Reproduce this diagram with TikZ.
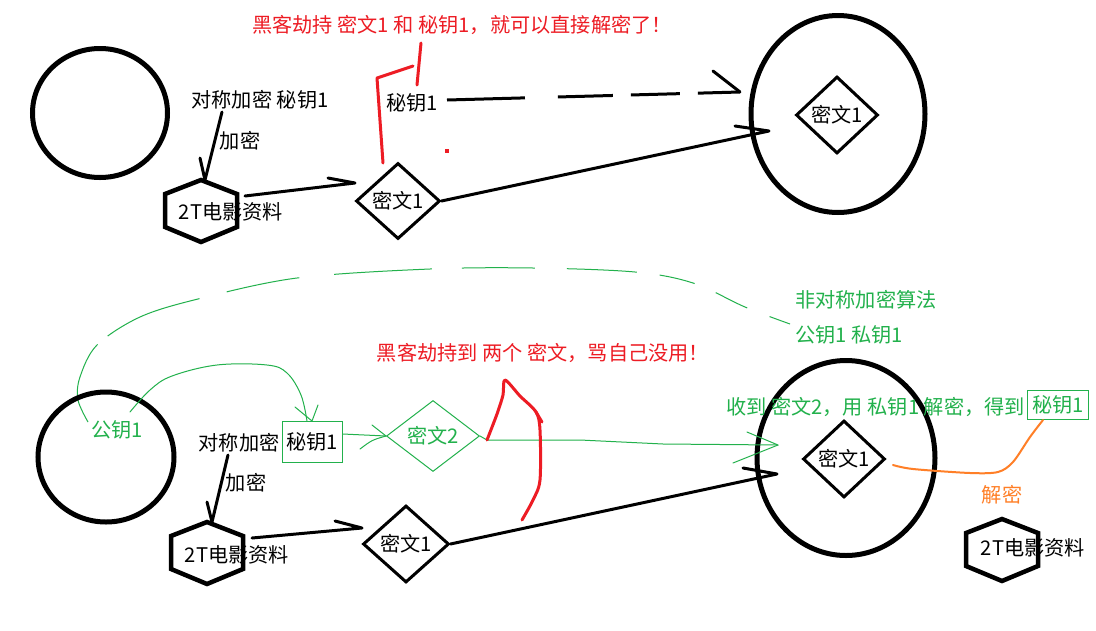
\documentclass[tikz,border=0pt]{standalone}
\usepackage{fontspec}
\newfontfamily\cjk{Noto Sans CJK SC}
\usetikzlibrary{shapes.geometric,calc}
\definecolor{pred}{RGB}{237,28,36}
\definecolor{pgreen}{RGB}{34,177,76}
\definecolor{porange}{RGB}{255,127,39}
\tikzset{
  txt/.style={inner sep=0pt, font=\cjk\fontsize{20.2}{24}\selectfont},
  bigcirc/.style={draw, ellipse, line width=5pt, inner sep=0pt},
  dmd/.style={draw, diamond, line width=3pt, inner sep=0pt, font=\cjk\fontsize{20.2}{24}\selectfont},
  gdmd/.style={draw=pgreen, diamond, line width=1pt, inner sep=0pt, text=pgreen, font=\cjk\fontsize{20.2}{24}\selectfont},
  gbox/.style={draw=pgreen, line width=1pt, inner sep=0pt, font=\cjk\fontsize{20.2}{24}\selectfont},
  blk/.style={line width=3pt, line cap=round, line join=round},
  redl/.style={pred, line width=3pt, line cap=round, line join=round},
  gl/.style={pgreen, line width=1pt, line cap=round, line join=round},
  ol/.style={porange, line width=2pt, line cap=round, line join=round},
  hexa/.pic={\draw[line width=4.5pt, line join=miter] (0,-31) -- (36,-17) -- (36,16) -- (0,31) -- (-36,16) -- (-36,-17) -- cycle;}
}
\begin{document}
\begin{tikzpicture}[x=1pt,y=-1pt]
\useasboundingbox (0,0) rectangle (1096,630);
\fill[white] (0,0) rectangle (1096,630);

% ================= top part =================
\node[txt, text=pred] (rt1) at (462,25) {黑客劫持 密文1 和 秘钥1，就可以直接解密了！};
\node[bigcirc, minimum width=135pt, minimum height=129pt] (c1) at (100,113) {};
\node[txt] (t1) at (260,100) {对称加密 秘钥1};
\node[txt] (t2) at (240,141) {加密};
\coordinate (hx1) at (201,211);
\pic at (hx1) {hexa};
\node[txt] (h1) at (231,212) {2T电影资料};
\node[dmd, minimum width=84pt, minimum height=76pt] (d1) at (398,201) {密文1};
\node[txt] (k1) at (412,103) {秘钥1};
\node[bigcirc, minimum width=174pt, minimum height=197pt] (c2) at (838,114) {};
\node[dmd, minimum width=82pt, minimum height=77pt] (d2) at (837,115) {密文1};

% arrow text -> hexagon
\coordinate (a1s) at (222,112);
\coordinate (a1e) at (205,180);
\coordinate (a1b) at (200,158);
\draw[blk] (a1s) -- (a1e) (a1b) -- (a1e);
% arrow hexagon -> diamond
\coordinate (a2s) at (245,196);
\coordinate (a2e) at (355,183);
\coordinate (a2b) at (328,178);
\draw[blk] (a2s) -- (a2e) (a2b) -- (a2e);
% dashed arrow key -> circle
\coordinate (a3s) at (447,100);
\coordinate (a3e) at (740,92);
\coordinate (a3b) at (713,71);
\draw[blk, line cap=butt, dash pattern=on 78pt off 33pt on 55pt off 18pt on 49pt off 18pt on 45pt] (a3s) -- (a3e);
\draw[blk] (a3b) -- (a3e);
% solid arrow diamond -> circle
\coordinate (a4e) at (769,131);
\coordinate (a4b) at (735,126);
\draw[blk] (d1.east) -- (a4e) (a4b) -- (a4e);
% red hacker marks
\draw[redl] (383,163) -- (377,78) -- (413,66);
\draw[redl] (421,43) -- (417,85);
\fill[pred] (445,149) rectangle (449,153);

% ================= bottom part =================
\draw[pgreen, line width=1pt, dash pattern=on 85pt off 13pt on 100pt off 28pt on 74pt off 35pt on 98pt off 30pt on 73pt off 32pt on 70pt off 23pt on 36pt off 23pt on 35pt off 24pt on 40pt]
  plot[smooth, tension=0.55] coordinates {(88,422) (78,400) (80,377) (97,345) (140,317) (198,299) (297,278) (430,269) (533,268) (635,272) (693,283) (745,307) (790,324)};
\node[txt, text=pgreen, anchor=west] (asym) at (795,300) {非对称加密算法};
\node[txt, text=pgreen, anchor=west] (pk) at (795,335) {公钥1 私钥1};

\node[txt, text=pred] (rt2) at (543,353) {黑客劫持到 两个 密文，骂自己没用！};

\node[bigcirc, minimum width=136pt, minimum height=130pt] (c3) at (106,457) {};
\node[txt, text=pgreen] (pub) at (117,430) {公钥1};
\node[gbox, minimum width=60pt, minimum height=41pt] (k2) at (312,442) {秘钥1};
\coordinate (g1b1) at (295,407);
\coordinate (g1b2) at (318,405);
\draw[gl] plot[smooth, tension=0.6] coordinates {(130,412) (150,390) (172,376) (217,365) (267,365) (287,373) (301,395) (307,421)};
\draw[gl] (g1b1) -- (k2.north) -- (g1b2);

\node[txt] (t3) at (239,443) {对称加密};
\node[txt] (t4) at (246,483) {加密};
\coordinate (hx2) at (207,553);
\pic at (hx2) {hexa};
\node[txt] (h2) at (237,555) {2T电影资料};
\node[dmd, minimum width=86pt, minimum height=77pt] (d3) at (406,544) {密文1};

\coordinate (b1s) at (228,455);
\coordinate (b1e) at (212,522);
\coordinate (b1b) at (207,502);
\draw[blk] (b1s) -- (b1e) (b1b) -- (b1e);
\coordinate (b2s) at (252,538);
\coordinate (b2e) at (362,528);
\coordinate (b2b) at (335,521);
\draw[blk] (b2s) -- (b2e) (b2b) -- (b2e);

\node[gdmd, minimum width=93pt, minimum height=71pt] (d4) at (433,436) {密文2};
\coordinate (g2b1) at (372,425);
\coordinate (g2b2) at (360,449);
\draw[gl] (k2.east |- 0,434) -- (d4.west);
\draw[gl] (g2b1) -- (d4.west);
\draw[gl] (g2b2) .. controls (372,440) .. (d4.west);

\node[bigcirc, minimum width=178pt, minimum height=195pt] (c4) at (846,458) {};
\node[dmd, minimum width=82pt, minimum height=77pt] (d5) at (844,459) {密文1};

\coordinate (g3e) at (778,445);
\coordinate (g3b1) at (747,432);
\coordinate (g3b2) at (733,463);
\draw[gl] (d4.east) -- (487,440) -- (580,440) -- (663,444) -- (g3e);
\draw[gl] (g3b1) -- (g3e) -- (g3b2);

\coordinate (b3e) at (777,474);
\coordinate (b3b) at (743,468);
\draw[blk] (d3.east) -- (b3e) (b3b) -- (b3e);

\draw[redl] plot[smooth, tension=0.5] coordinates {(487,440) (497,414) (503,395) (505,380) (520,396) (536,412) (540,430) (540,480) (533,500) (522,520)};
\draw[redl] (536,412) -- (542,422);

\node[txt, text=pgreen, anchor=east] (recv) at (1025,407) {收到 密文2，用 私钥1 解密，得到};
\node[gbox, text=pgreen, minimum width=61pt, minimum height=29pt] (k3) at (1058,405) {秘钥1};
\draw[ol] plot[smooth, tension=0.5] coordinates {(893,465) (913,469) (970,473) (998,472) (1013,462) (1030,437) (1043,420)};
\node[txt, text=porange] (dec) at (1002,495) {解密};
\coordinate (hx3) at (1002,550);
\pic at (hx3) {hexa};
\node[txt] (h3) at (1033,548) {2T电影资料};
\end{tikzpicture}
\end{document}
